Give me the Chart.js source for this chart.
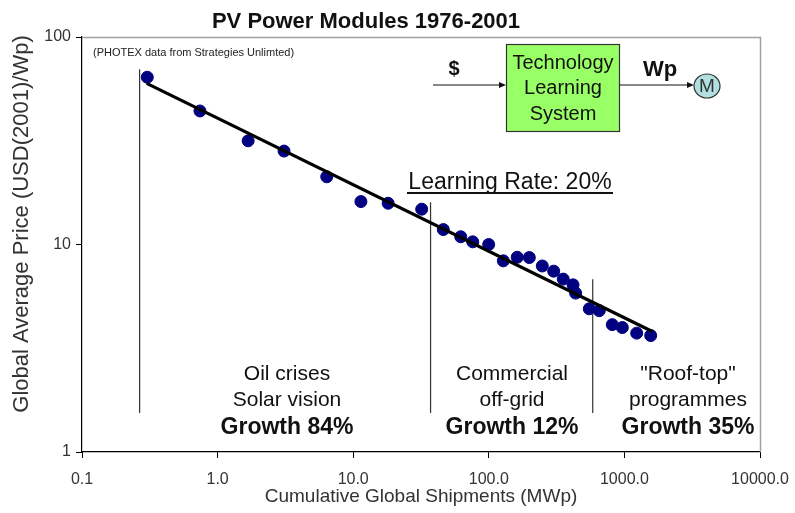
<!DOCTYPE html>
<html><head><meta charset="utf-8">
<script src="https://cdn.jsdelivr.net/npm/chart.js@4"></script>
<style>html,body{margin:0;padding:0;background:#fff}</style>
</head><body>
<canvas id="c" width="795" height="513"></canvas>
<script>
// Cumulative global shipments (MWp) and module price (USD(2001)/Wp)
const shipments = [0.303, 0.741, 1.68, 3.09, 6.38, 11.4, 18.1, 32.0, 46.2, 62.1, 76.1, 99.8, 128, 162, 199, 248, 301, 354, 418, 437, 551, 653, 814, 965, 1232, 1563];
const prices    = [64.0, 44.0, 31.6, 28.2, 21.2, 16.1, 15.8, 14.8, 11.8, 10.9, 10.3, 10.0, 8.34, 8.68, 8.65, 7.88, 7.44, 6.81, 6.39, 5.83, 4.90, 4.80, 4.11, 3.98, 3.74, 3.64];
// experience curve (learning rate 20%)
const fitShipments = [0.30, 1607];
const fitPrices = [59.8, 3.81];
// era dividers
const dividerShipments = [0.266, 37.2, 584];
const dividerTop = [70, 16.0, 6.8];
const dividerBottom = [1.54, 1.54, 1.54];
// ticks
const xTickValues = [0.1, 1, 10, 100, 1000, 10000];
const xTickLabels = ['0.1', '1.0', '10.0', '100.0', '1000.0', '10000.0'];
const yTickValues = [1, 10, 100];
const yTickLabels = ['1', '10', '100'];

const FONT = '"Liberation Sans", Arial, sans-serif';

const datasets = [
  {
    label: 'Fit',
    data: fitShipments.map((x, i) => ({x, y: fitPrices[i]})),
    showLine: true, borderColor: '#000', borderWidth: 3.2, pointRadius: 0, order: 0
  },
  {
    label: 'PV modules',
    data: shipments.map((x, i) => ({x, y: prices[i]})),
    backgroundColor: '#000080', borderColor: '#000080', pointRadius: 6, pointHoverRadius: 6, order: 1
  }
];
dividerShipments.forEach((x, i) => {
  datasets.push({
    label: 'divider' + i,
    data: [{x, y: dividerTop[i]}, {x, y: dividerBottom[i]}],
    showLine: true, borderColor: '#333', borderWidth: 1.2, pointRadius: 0, order: 2
  });
});

function arrowHead(ctx, x, y) {
  ctx.beginPath();
  ctx.moveTo(x, y);
  ctx.lineTo(x - 7, y - 3);
  ctx.lineTo(x - 7, y + 3);
  ctx.closePath();
  ctx.fill();
}

const overlay = {
  id: 'overlay',
  afterDraw(chart) {
    const ctx = chart.ctx;
    const a = chart.chartArea;
    ctx.save();
    // top & right frame
    ctx.strokeStyle = '#a0a0a0';
    ctx.lineWidth = 1.5;
    ctx.beginPath();
    ctx.moveTo(a.left, a.top + 0.5);
    ctx.lineTo(a.right + 0.5, a.top + 0.5);
    ctx.lineTo(a.right + 0.5, a.bottom);
    ctx.stroke();

    ctx.fillStyle = '#111';
    // title
    ctx.font = 'bold 22px ' + FONT;
    ctx.textAlign = 'center';
    ctx.textBaseline = 'alphabetic';
    ctx.fillText('PV Power Modules 1976-2001', 366, 28);

    // axis titles
    ctx.fillStyle = '#333';
    ctx.font = '19px ' + FONT;
    ctx.textBaseline = 'middle';
    ctx.fillText('Cumulative Global Shipments (MWp)', 421, 497);
    ctx.save();
    ctx.translate(22, 224);
    ctx.rotate(-Math.PI / 2);
    ctx.font = '22px ' + FONT;
    ctx.fillText('Global Average Price (USD(2001)/Wp)', 0, 0);
    ctx.restore();

    // source note
    ctx.fillStyle = '#222';
    ctx.font = '11px ' + FONT;
    ctx.textAlign = 'left';
    ctx.fillText('(PHOTEX data from Strategies Unlimted)', 93, 53);

    // learning rate
    ctx.fillStyle = '#111';
    ctx.font = '23px ' + FONT;
    ctx.textAlign = 'center';
    ctx.fillText('Learning Rate: 20%', 510, 183);
    ctx.fillRect(407, 192, 206, 2);

    // era labels
    const eras = [
      {x: 287, l1: 'Oil crises', l2: 'Solar vision', g: 'Growth 84%'},
      {x: 512, l1: 'Commercial', l2: 'off-grid', g: 'Growth 12%'},
      {x: 688, l1: '"Roof-top"', l2: 'programmes', g: 'Growth 35%'}
    ];
    eras.forEach(e => {
      ctx.font = '21px ' + FONT;
      ctx.fillStyle = '#111';
      ctx.fillText(e.l1, e.x, 374);
      ctx.fillText(e.l2, e.x, 400);
      ctx.font = 'bold 23px ' + FONT;
      ctx.fillText(e.g, e.x, 428);
    });

    // learning system diagram
    ctx.fillStyle = '#99ff66';
    ctx.fillRect(506, 44, 114, 88);
    ctx.strokeStyle = '#333';
    ctx.lineWidth = 1.2;
    ctx.strokeRect(506.5, 44.5, 113, 87);
    ctx.fillStyle = '#111';
    ctx.font = '20px ' + FONT;
    ctx.fillText('Technology', 563, 63);
    ctx.fillText('Learning', 563, 88);
    ctx.fillText('System', 563, 114);

    ctx.strokeStyle = '#111';
    ctx.lineWidth = 1.2;
    ctx.beginPath();
    ctx.moveTo(433, 85); ctx.lineTo(500, 85);
    ctx.moveTo(620, 85); ctx.lineTo(688, 85);
    ctx.stroke();
    arrowHead(ctx, 506, 85);
    arrowHead(ctx, 694, 85);

    ctx.font = 'bold 20px ' + FONT;
    ctx.fillText('$', 454, 69);
    ctx.font = 'bold 22px ' + FONT;
    ctx.fillText('Wp', 660, 70);

    ctx.beginPath();
    ctx.ellipse(707, 86, 13, 12, 0, 0, Math.PI * 2);
    ctx.fillStyle = '#b0e0e0';
    ctx.fill();
    ctx.strokeStyle = '#333';
    ctx.stroke();
    ctx.fillStyle = '#333';
    ctx.font = '19px ' + FONT;
    ctx.fillText('M', 707, 87);
    ctx.restore();
  }
};

new Chart(document.getElementById('c'), {
  type: 'scatter',
  data: {datasets},
  options: {
    responsive: false,
    animation: false,
    events: [],
    layout: {padding: {top: 37, right: 35, left: 0, bottom: 0}},
    plugins: {legend: {display: false}, tooltip: {enabled: false}, title: {display: false}},
    scales: {
      x: {
        type: 'logarithmic', min: 0.1, max: 10000,
        afterBuildTicks: s => { s.ticks = xTickValues.map(v => ({value: v})); },
        afterFit: s => { s.height = 61; s.paddingRight = 0; s.paddingLeft = 0; },
        grid: {drawOnChartArea: false, drawTicks: true, tickLength: 6, color: '#000'},
        border: {display: true, color: '#000', width: 1.2},
        ticks: {
          autoSkip: false, maxRotation: 0, padding: 12, color: '#333',
          font: {family: FONT, size: 16},
          callback: (v, i) => xTickLabels[i]
        }
      },
      y: {
        type: 'logarithmic', min: 1, max: 100,
        afterBuildTicks: s => { s.ticks = yTickValues.map(v => ({value: v})); },
        afterFit: s => { s.width = 82; s.paddingTop = 0; s.paddingBottom = 0; },
        grid: {drawOnChartArea: false, drawTicks: true, tickLength: 6, color: '#000'},
        border: {display: true, color: '#000', width: 1.2},
        ticks: {
          autoSkip: false, padding: 5, color: '#333',
          font: {family: FONT, size: 16},
          callback: (v, i) => yTickLabels[i]
        }
      }
    }
  },
  plugins: [overlay]
});
</script>
</body></html>
